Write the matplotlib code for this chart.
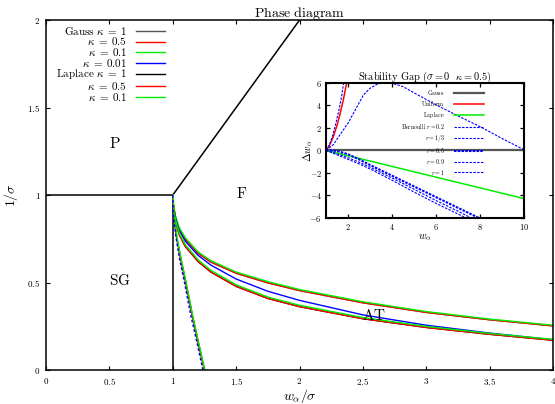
import matplotlib
matplotlib.use("Agg")
import matplotlib.pyplot as plt

plt.rcParams['mathtext.fontset'] = 'cm'
plt.rcParams['font.family'] = ['DejaVu Serif']

# ---------------- main phase diagram data ----------------
xticks_main = [0, 0.5, 1, 1.5, 2, 2.5, 3, 3.5, 4]
xtick_labels_main = ['0', '0.5', '1', '1.5', '2', '2.5', '3', '3.5', '4']
yticks_main = [0, 0.5, 1, 1.5, 2]
ytick_labels_main = ['0', '0.5', '1', '1.5', '2']

# phase boundaries
psg_x = [0, 1]
psg_y = [1, 1]
sgf_x = [1, 1]
sgf_y = [0, 1]
pf_x = [1, 2]
pf_y = [1, 2]

# AT lines (upper family, "Gauss")
at_upper_x = [1.0, 1.005, 1.02, 1.05, 1.1, 1.2, 1.3, 1.5, 1.75, 2.0, 2.5, 3.0, 3.5, 4.0]
at_upper_green = [1.0, 0.95, 0.885, 0.815, 0.755, 0.675, 0.625, 0.56, 0.505, 0.46, 0.39, 0.334, 0.291, 0.256]
at_upper_red = [1.0, 0.945, 0.875, 0.805, 0.745, 0.667, 0.617, 0.553, 0.498, 0.454, 0.384, 0.329, 0.287, 0.252]

# AT lines (lower family, "Laplace")
at_lower_x = [1.0, 1.005, 1.02, 1.05, 1.1, 1.2, 1.3, 1.5, 1.75, 2.0, 2.5, 3.0, 3.5, 4.0]
at_lower_green = [1.0, 0.94, 0.865, 0.785, 0.715, 0.63, 0.57, 0.487, 0.417, 0.37, 0.3, 0.249, 0.209, 0.175]
at_lower_red = [1.0, 0.935, 0.855, 0.775, 0.705, 0.62, 0.56, 0.478, 0.409, 0.362, 0.293, 0.243, 0.204, 0.170]

# kappa = 0.01 (blue)
at_blue_x = [1.0, 1.005, 1.02, 1.05, 1.1, 1.2, 1.3, 1.5, 1.75, 2.0, 2.5, 3.0, 3.5, 4.0]
at_blue_y = [1.0, 0.94, 0.872, 0.8, 0.735, 0.655, 0.6, 0.52, 0.45, 0.398, 0.315, 0.256, 0.211, 0.173]

# steep branches to (1.25, 0)
steep_x = [1.0, 1.005, 1.01, 1.03, 1.065, 1.1, 1.152, 1.2, 1.25]
steep_y = [1.0, 0.92, 0.87, 0.76, 0.629, 0.51, 0.32, 0.16, 0.0]
steep_blue_x = [1.0, 1.004, 1.008, 1.025, 1.055, 1.09, 1.14, 1.19, 1.238]
steep_blue_y = [1.0, 0.92, 0.87, 0.76, 0.629, 0.51, 0.32, 0.16, 0.0]

# ---------------- inset: stability gap ----------------
inset_xticks = [2, 4, 6, 8, 10]
inset_xtick_labels = ['2', '4', '6', '8', '10']
inset_yticks = [-6, -4, -2, 0, 2, 4, 6]
inset_ytick_labels = ['-6', '-4', '-2', '0', '2', '4', '6']

gauss_x = [1, 10]
gauss_y = [0, 0]
uniform_x = [1.0, 1.15, 1.33, 1.5, 1.64, 1.8, 1.94]
uniform_y = [0.0, 0.4, 1.2, 2.2, 3.25, 4.6, 6.0]
laplace_x = [1, 10]
laplace_y = [0.0, -4.28]

bern_02_x = [1.0, 1.15, 1.3, 1.45, 1.6, 1.72, 1.8]
bern_02_y = [0.0, 0.45, 1.3, 2.4, 3.7, 4.9, 6.0]
bern_13_x = [1.0, 1.33, 1.64, 2.0, 2.25, 2.7, 3.0, 3.31, 3.6, 4.0, 4.5, 5.0, 5.9, 7.0, 8.03, 9.0, 10.0]
bern_13_y = [0.0, 0.5, 1.4, 2.4, 3.3, 4.9, 5.5, 5.85, 6.0, 5.95, 5.65, 5.1, 4.14, 3.05, 2.07, 1.05, 0.05]
bern_05_x = [1.0, 1.5, 2.0, 2.5, 3.0, 4.0, 5.0, 6.0, 7.0, 7.95]
bern_05_y = [0.0, -0.05, -0.35, -0.8, -1.3, -2.25, -3.2, -4.15, -5.1, -6.0]
bern_09_x = [1.0, 1.5, 2.0, 2.5, 3.0, 4.0, 5.0, 6.0, 7.0, 7.6]
bern_09_y = [0.0, -0.3, -0.65, -1.05, -1.5, -2.45, -3.45, -4.45, -5.4, -6.0]
bern_1_x = [1.0, 1.5, 2.0, 2.5, 3.0, 4.0, 5.0, 6.0, 7.0, 7.35]
bern_1_y = [0.0, -0.4, -0.8, -1.2, -1.65, -2.65, -3.7, -4.7, -5.65, -6.0]

RED = '#ff0000'
GREEN = '#00ee00'
BLUE = '#0000ff'

fig = plt.figure(figsize=(5.55, 4.04), dpi=100)
ax = fig.add_axes([0.0829, 0.0842, 0.9135, 0.866])

lw = 1.0
ax.plot(psg_x, psg_y, color='black', lw=1.1)
ax.plot(sgf_x, sgf_y, color='black', lw=1.1)
ax.plot(pf_x, pf_y, color='black', lw=1.1)

# Gauss family
ax.plot(at_upper_x, at_upper_red, color='#555555', lw=lw, label=r'$\mathrm{Gauss}\ \kappa\;=\;1$')
ax.plot(at_upper_x, at_upper_red, color=RED, lw=lw, label=r'$\kappa\;=\;0.5$')
ax.plot(at_upper_x, at_upper_green, color=GREEN, lw=lw, label=r'$\kappa\;=\;0.1$')
ax.plot(at_blue_x, at_blue_y, color=BLUE, lw=lw, label=r'$\kappa\;=\;0.01$')
# Laplace family
ax.plot(at_lower_x, at_lower_red, color='black', lw=lw, label=r'$\mathrm{Laplace}\ \kappa\;=\;1$')
ax.plot(at_lower_x, at_lower_red, color=RED, lw=lw, label=r'$\kappa\;=\;0.5$')
ax.plot(at_lower_x, at_lower_green, color=GREEN, lw=lw, label=r'$\kappa\;=\;0.1$')

# steep branches
ax.plot(steep_x, steep_y, color='black', lw=lw)
ax.plot(steep_x, steep_y, color=RED, lw=lw)
ax.plot([v + 0.003 for v in steep_x], steep_y, color=GREEN, lw=lw)
ax.plot(steep_blue_x, steep_blue_y, color=BLUE, lw=lw, ls=(0, (2, 1.5)))

ax.set_xlim(0, 4)
ax.set_ylim(0, 2)
ax.set_xticks(xticks_main)
ax.set_xticklabels(['$%s$' % s for s in xtick_labels_main])
ax.set_yticks(yticks_main)
ax.set_yticklabels(['$%s$' % s for s in ytick_labels_main])
ax.tick_params(direction='in', top=True, right=True, length=3, width=0.8, labelsize=6.5, pad=4)
for sp in ax.spines.values():
    sp.set_linewidth(1.1)

ax.set_xlabel(r'$w_\alpha/\sigma$', fontsize=10, labelpad=0)
ax.set_ylabel(r'$1/\sigma$', fontsize=10, labelpad=5)
ax.set_title(r'$\mathrm{Phase\ diagram}$', fontsize=10, pad=2)

ax.text(0.544, 1.297, r'$\mathrm{P}$', fontsize=11, ha='center', va='center')
ax.text(0.584, 0.509, r'$\mathrm{SG}$', fontsize=11, ha='center', va='center')
ax.text(1.54, 1.011, r'$\mathrm{F}$', fontsize=11, ha='center', va='center')
ax.text(2.59, 0.314, r'$\mathrm{AT}$', fontsize=11, ha='center', va='center')

leg = ax.legend(loc='upper left', bbox_to_anchor=(0.002, 1.012), markerfirst=False, frameon=False,
                fontsize=8, handlelength=2.6, handletextpad=0.8, labelspacing=-0.12,
                borderpad=0.3)

# ---------------- inset ----------------
ax2 = fig.add_axes([0.5874, 0.4604, 0.3568, 0.335])
ax2.plot(gauss_x, gauss_y, color='#555555', lw=1.6, label=r'$\mathrm{Gauss}$')
ax2.plot(uniform_x, uniform_y, color=RED, lw=1.1, label=r'$\mathrm{Uniform}$')
ax2.plot(laplace_x, laplace_y, color=GREEN, lw=1.1, label=r'$\mathrm{Laplace}$')
dash = (0, (2.2, 1.2))
ax2.plot(bern_02_x, bern_02_y, color=BLUE, lw=0.8, ls=dash, label=r'$\mathrm{Bernoulli}\ r=0.2$')
ax2.plot(bern_13_x, bern_13_y, color=BLUE, lw=0.8, ls=dash, label=r'$r=1/3$')
ax2.plot(bern_05_x, bern_05_y, color=BLUE, lw=1.5, ls=(0, (1.2, 0.6)), label=r'$r=0.5$')
ax2.plot(bern_09_x, bern_09_y, color=BLUE, lw=0.8, ls=dash, label=r'$r=0.9$')
ax2.plot(bern_1_x, bern_1_y, color=BLUE, lw=0.8, ls=dash, label=r'$r=1$')

ax2.set_xlim(1, 10)
ax2.set_ylim(-6, 6)
ax2.set_xticks(inset_xticks)
ax2.set_xticklabels(['$%s$' % s for s in inset_xtick_labels])
ax2.set_yticks(inset_yticks)
ax2.set_yticklabels(['$%s$' % s for s in inset_ytick_labels])
ax2.tick_params(direction='in', top=True, right=True, length=3, width=0.9, labelsize=6, pad=3)
for sp in ax2.spines.values():
    sp.set_linewidth(1.5)
ax2.set_title(r'$\mathrm{Stability\ Gap}\ (\sigma=0\ \ \kappa=0.5)$', fontsize=7.5, pad=2)
ax2.set_xlabel(r'$w_\alpha$', fontsize=7.5, labelpad=0)
ax2.set_ylabel(r'$\Delta w_\alpha$', fontsize=7.5, labelpad=-3.5)
leg2 = ax2.legend(loc='upper right', bbox_to_anchor=(0.82, 0.99), markerfirst=False, frameon=False,
                  fontsize=4.3, handlelength=5.0, handletextpad=1.6, labelspacing=0.32,
                  borderpad=0.2)

fig.savefig('out.png', dpi=100)
